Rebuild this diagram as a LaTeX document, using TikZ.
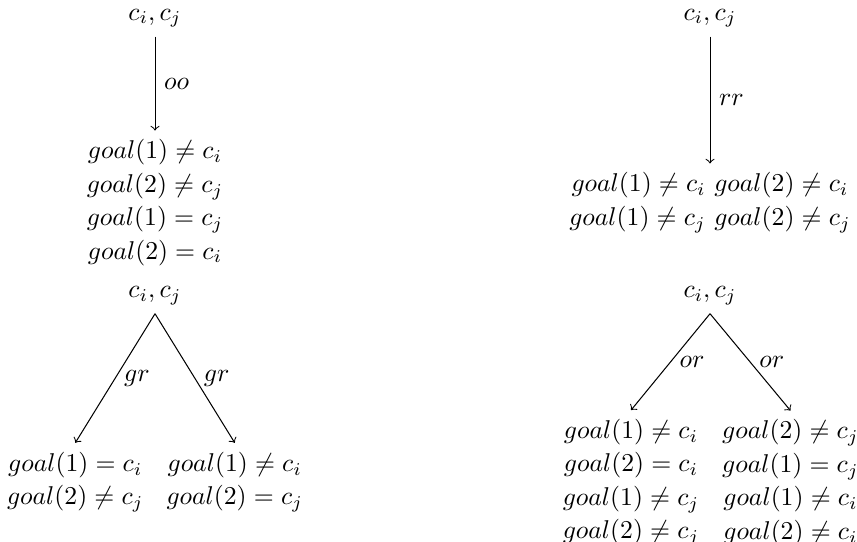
\documentclass[tikz,border=0pt]{standalone}
\usepackage{amsmath,amssymb}
\usetikzlibrary{positioning}

\begin{document}
\begin{tikzpicture}[
  facts/.style={align=center, font={\baselineskip=13pt}},
  move/.style={->},
  lbl/.style={right, midway}
]
\useasboundingbox (0,0) rectangle (11.72,-7.41);

% oo
\node (root1) at (2.12,-0.25) {$c_i, c_j$};
\node[facts] (oo) at (2.12,-2.77) {$goal(1) \neq c_i$\\ $goal(2) \neq c_j$\\ $goal(1) = c_j$\\ $goal(2) = c_i$};
\draw[move] (root1.south) -- node[lbl] {$oo$} (oo.north);

% rr
\node (root2) at (9.71,-0.25) {$c_i, c_j$};
\node[facts] (rr) at (9.71,-2.77) {$goal(1) \neq c_i$ $goal(2) \neq c_i$\\ $goal(1) \neq c_j$ $goal(2) \neq c_j$};
\draw[move] (root2.south) -- node[lbl] {$rr$} (rr.north);

% gr
\node (root3) at (2.12,-4.04) {$c_i, c_j$};
\node[facts] (gr1) at (1.03,-6.59) {$goal(1) = c_i$\\ $goal(2) \neq c_j$};
\node[facts] (gr2) at (3.21,-6.59) {$goal(1) \neq c_i$\\ $goal(2) = c_j$};
\draw[move] (root3.south) -- node[lbl] {$gr$} (gr1.north);
\draw[move] (root3.south) -- node[lbl] {$gr$} (gr2.north);

% or
\node (root4) at (9.71,-4.04) {$c_i, c_j$};
\node[facts] (or1) at (8.63,-6.6) {$goal(1) \neq c_i$\\ $goal(2) = c_i$\\ $goal(1) \neq c_j$\\ $goal(2) \neq c_j$};
\node[facts] (or2) at (10.81,-6.6) {$goal(2) \neq c_j$\\ $goal(1) = c_j$\\ $goal(1) \neq c_i$\\ $goal(2) \neq c_i$};
\draw[move] (root4.south) -- node[lbl] {$or$} (or1.north);
\draw[move] (root4.south) -- node[lbl] {$or$} (or2.north);
\end{tikzpicture}
\end{document}
